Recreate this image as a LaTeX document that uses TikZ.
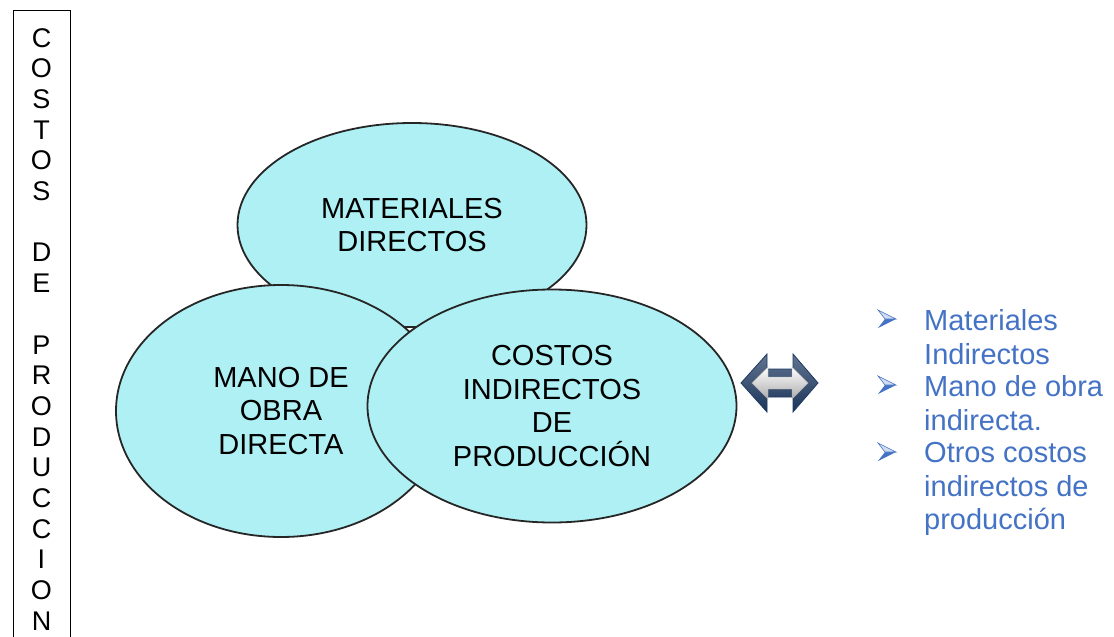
\documentclass[tikz,border=0pt]{standalone}
\usepackage{fontspec}
\setmainfont{Liberation Sans}
\usetikzlibrary{shapes.geometric,positioning}
\definecolor{celeste}{RGB}{175,240,245}
\definecolor{azul}{RGB}{68,114,196}
\definecolor{marino}{RGB}{30,58,98}
\tikzset{
  costo/.style ={ellipse, draw=black!85, line width=1.8pt, fill=celeste, align=center, inner sep=0pt,
                 font=\fontsize{29}{33.5}\selectfont},
  titulo/.style={align=center, inner sep=0pt, font=\fontsize{27}{30.7}\selectfont},
  item/.style  ={anchor=north west, align=left, inner sep=0pt, text=azul,
                 font=\fontsize{29}{33.5}\selectfont},
  vineta/.pic  ={
    \fill[azul] (-9,9) -- (9,0) -- (-2,0) -- cycle;
    \draw[azul, fill=azul!25, line width=0.6pt] (-9,-9) -- (9,0) -- (-2,0) -- cycle;
  }
}
\begin{document}
\begin{tikzpicture}[x=1pt, y=-1pt]
\useasboundingbox (0,0) rectangle (1114,637);

% recuadro vertical
\draw[line width=1pt] (13.5,10) rectangle (70,660);
\node[titulo, anchor=north] (tit) at (41.5,28)
  {C\\O\\S\\T\\O\\S\\\mbox{}\\D\\E\\\mbox{}\\P\\R\\O\\D\\U\\C\\C\\I\\O\\N};

% elementos del costo
\node[costo, minimum width=349, minimum height=204] (md) at (412,225)
  {MATERIALES\\DIRECTOS};
\node[costo, minimum width=330, minimum height=252] (mo) at (281,411)
  {MANO DE\\OBRA\\DIRECTA};
\node[costo, minimum width=369, minimum height=233] (ci) at (552,406)
  {COSTOS\\INDIRECTOS\\DE\\PRODUCCIÓN};

% flecha doble
\draw[marino, line width=0.8pt, top color=marino!70, bottom color=marino!90!black]
  (741,383) -- (767,354) -- (767,369) -- (793,369) -- (793,354) -- (818,383)
  -- (793,412) -- (793,397) -- (767,397) -- (767,412) -- cycle;
\draw[gray!60, line width=0.4pt, top color=white, bottom color=gray!65]
  (752,383) -- (768,367) -- (768,377) -- (792,377) -- (792,367) -- (808,383)
  -- (792,399) -- (792,389) -- (768,389) -- (768,399) -- cycle;

% lista de indirectos
\node[item] (mi) at (924,309.5) {Materiales\\Indirectos};
\node[item] (mn) at (924,375.5) {Mano de obra\\indirecta.};
\node[item] (oc) at (924,442.5) {Otros costos\\indirectos de\\producción};
\pic at (887,319) {vineta};
\pic at (887,385) {vineta};
\pic at (887,452) {vineta};
\end{tikzpicture}
\end{document}
